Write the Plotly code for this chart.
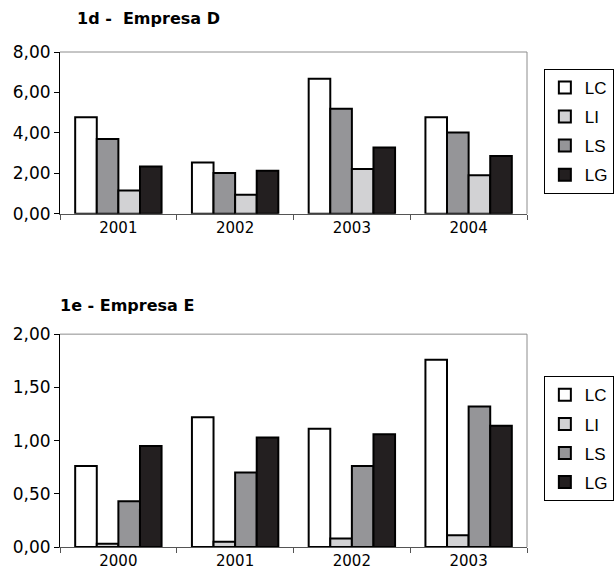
import plotly.graph_objects as go

# ---- data ----
years_d = ["2001", "2002", "2003", "2004"]
d_LC = [4.77, 2.54, 6.68, 4.77]
d_LS = [3.70, 2.02, 5.19, 4.02]
d_LI = [1.15, 0.95, 2.22, 1.91]
d_LG = [2.34, 2.13, 3.28, 2.86]

years_e = ["2000", "2001", "2002", "2003"]
e_LC = [0.76, 1.22, 1.11, 1.76]
e_LI = [0.03, 0.05, 0.08, 0.11]
e_LS = [0.43, 0.70, 0.76, 1.32]
e_LG = [0.95, 1.03, 1.06, 1.14]

title_d = "1d -  Empresa D"
title_e = "1e - Empresa E"

COL = {"LC": "#ffffff", "LI": "#d2d2d4", "LS": "#959598", "LG": "#231f20"}

fig = go.Figure()

# top chart: bar order LC, LS, LI, LG ; legend order LC, LI, LS, LG
top_series = [("LC", d_LC, 1), ("LS", d_LS, 3), ("LI", d_LI, 2), ("LG", d_LG, 4)]
for name, vals, rank in top_series:
    fig.add_trace(go.Bar(
        x=years_d, y=vals, name=name, xaxis="x", yaxis="y",
        marker=dict(color=COL[name], line=dict(color="#000000", width=2)),
        legend="legend", legendgroup="d" + name, legendrank=rank,
        offsetgroup=name,
    ))

bot_series = [("LC", e_LC), ("LI", e_LI), ("LS", e_LS), ("LG", e_LG)]
for i, (name, vals) in enumerate(bot_series):
    fig.add_trace(go.Bar(
        x=years_e, y=vals, name=name, xaxis="x2", yaxis="y2",
        marker=dict(color=COL[name], line=dict(color="#000000", width=2)),
        legend="legend2", legendgroup="e" + name, legendrank=i + 1,
        offsetgroup=name,
    ))

xtickfont = dict(family="DejaVu Sans", size=15, color="#000000")
ytickfont = dict(family="DejaVu Sans", size=17, color="#000000")
legfont = dict(family="Liberation Sans", size=17, color="#000000")

xax = dict(type="category", showline=True, linecolor="#555555", linewidth=1,
           ticks="outside", tickson="boundaries", ticklen=5, tickcolor="#555555",
           tickfont=xtickfont, showgrid=False, zeroline=False, fixedrange=True)
yax_common = dict(showline=True, linecolor="#000000", linewidth=1, ticks="outside",
                  ticklen=5, tickcolor="#000000", tickfont=ytickfont, showgrid=False,
                  zeroline=False, tickformat=".2f")

leg_common = dict(xanchor="right", yanchor="top", bordercolor="#000000",
                  borderwidth=1, font=legfont, traceorder="grouped", tracegroupgap=4,
                  itemwidth=30, bgcolor="#ffffff")

fig.update_layout(
    width=616, height=577,
    margin=dict(l=60, r=89, t=52, b=30, autoexpand=False),
    paper_bgcolor="#ffffff", plot_bgcolor="#ffffff",
    separators=",.",
    barmode="group", bargap=0.26, bargroupgap=0,
    showlegend=True,
    xaxis=dict(xax, domain=[0, 1], anchor="y"),
    yaxis=dict(yax_common, domain=[0.673, 1.0], range=[0, 8], dtick=2, anchor="x"),
    xaxis2=dict(xax, domain=[0, 1], anchor="y2"),
    yaxis2=dict(yax_common, domain=[0, 0.430], range=[0, 2], dtick=0.5, anchor="x2"),
    legend=dict(leg_common, x=1.186, y=0.966),
    legend2=dict(leg_common, x=1.186, y=0.345),
    annotations=[
        dict(text="<b>" + title_d + "</b>", xref="paper", yref="paper", x=0.032, y=1.067,
             xanchor="left", yanchor="middle", showarrow=False,
             font=dict(family="DejaVu Sans", size=16, color="#000000")),
        dict(text="<b>" + title_e + "</b>", xref="paper", yref="paper", x=-0.004, y=0.487,
             xanchor="left", yanchor="middle", showarrow=False,
             font=dict(family="DejaVu Sans", size=16, color="#000000")),
    ],
    shapes=[
        dict(type="line", xref="x domain", yref="y domain", x0=0, x1=1, y0=1, y1=1,
             line=dict(color="#8c8c8c", width=1)),
        dict(type="line", xref="x domain", yref="y domain", x0=1, x1=1, y0=0, y1=1,
             line=dict(color="#8c8c8c", width=1)),
        dict(type="line", xref="x2 domain", yref="y2 domain", x0=0, x1=1, y0=1, y1=1,
             line=dict(color="#8c8c8c", width=1)),
        dict(type="line", xref="x2 domain", yref="y2 domain", x0=1, x1=1, y0=0, y1=1,
             line=dict(color="#8c8c8c", width=1)),
    ],
)

fig.write_html(
    "out.html",
    config={"displayModeBar": False},
    post_script="document.body.style.margin='0';document.body.style.overflow='hidden';",
)
